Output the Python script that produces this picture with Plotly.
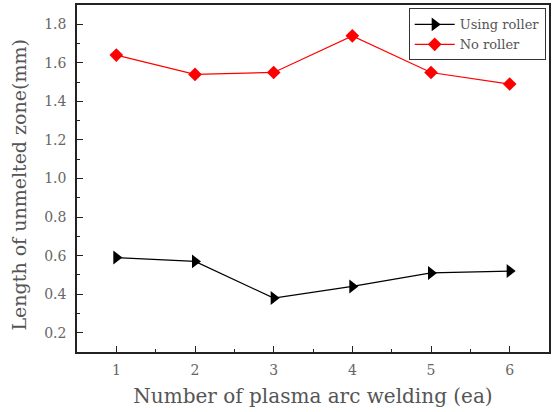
import plotly.graph_objects as go

x_vals = [1, 2, 3, 4, 5, 6]
using_roller = [0.59, 0.57, 0.38, 0.44, 0.51, 0.52]
no_roller = [1.64, 1.54, 1.55, 1.74, 1.55, 1.49]
y_ticks = [0.2, 0.4, 0.6, 0.8, 1.0, 1.2, 1.4, 1.6, 1.8]
y_tick_text = ["0.2", "0.4", "0.6", "0.8", "1.0", "1.2", "1.4", "1.6", "1.8"]

font_fam = "DejaVu Serif"
txt_col = "#555555"
tick_col = "#666666"

fig = go.Figure()
fig.add_trace(go.Scatter(x=x_vals, y=using_roller, name="Using roller", mode="lines+markers",
                         line=dict(color="black", width=1.2),
                         marker=dict(symbol="triangle-right", size=12, color="black")))
fig.add_trace(go.Scatter(x=x_vals, y=no_roller, name="No roller", mode="lines+markers",
                         line=dict(color="red", width=1.2),
                         marker=dict(symbol="diamond", size=10.5, color="red")))

axis_common = dict(showline=True, linecolor="#222222", linewidth=1.5, mirror=True,
                   ticks="inside", ticklen=6, tickcolor="#222222", showgrid=False, zeroline=False,
                   tickfont=dict(family=font_fam, size=14, color=tick_col))

fig.update_layout(
    width=558, height=412,
    margin=dict(l=77, r=9, t=3, b=60),
    plot_bgcolor="white", paper_bgcolor="white",
    xaxis=dict(range=[0.5, 6.5], tickvals=x_vals, ticklabelstandoff=4,
               minor=dict(ticks="inside", ticklen=3, dtick=0.5, tick0=0.5, tickcolor="#222222"),
               title=dict(text="Number of plasma arc welding (ea)", standoff=12,
                          font=dict(family=font_fam, size=20, color=txt_col)),
               **axis_common),
    yaxis=dict(range=[0.1, 1.9], tickvals=y_ticks, ticktext=y_tick_text, ticklabelstandoff=6,
               minor=dict(ticks="inside", ticklen=3, dtick=0.1, tick0=0.1, tickcolor="#222222"),
               **axis_common),
    annotations=[dict(text="Length of unmelted zone(mm)", x=0, xref="paper", xanchor="center",
                      xshift=-59, y=0.5, yref="paper", yanchor="middle", yshift=-7,
                      textangle=-90, showarrow=False,
                      font=dict(family=font_fam, size=19, color=txt_col))],
    legend=dict(x=0.993, y=0.99, xanchor="right", yanchor="top",
                bgcolor="white", bordercolor="#333333", borderwidth=1,
                font=dict(family=font_fam, size=13, color=txt_col),
                tracegroupgap=0, itemwidth=40),
)

fig.write_html("out.html")
